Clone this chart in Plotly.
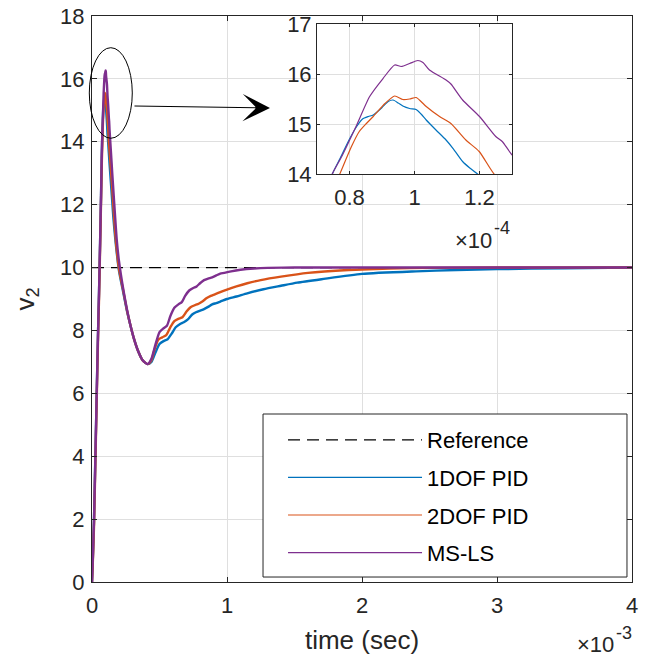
import plotly.graph_objects as go

# ---------------- data (time in seconds) ----------------
ref_t = [0.0, 0.004]
ref_v = [10.0, 10.0]

t_1dof = [0, 0.005e-3, 0.015e-3, 0.025e-3, 0.035e-3, 0.045e-3, 0.052e-3, 0.060e-3, 0.067e-3, 0.072e-3,
          0.0747e-3, 0.077e-3, 0.080e-3, 0.0822e-3, 0.084e-3, 0.0858e-3, 0.0873e-3, 0.090e-3, 0.0919e-3,
          0.0934e-3, 0.095e-3, 0.0964e-3, 0.0985e-3, 0.1005e-3, 0.102e-3, 0.1036e-3, 0.1066e-3, 0.1097e-3,
          0.112e-3, 0.1148e-3, 0.117e-3, 0.1194e-3, 0.130e-3, 0.150e-3, 0.158e-3, 0.175e-3, 0.200e-3,
          0.232e-3, 0.260e-3, 0.281e-3, 0.310e-3, 0.343e-3, 0.375e-3, 0.412e-3, 0.440e-3, 0.470e-3,
          0.500e-3, 0.530e-3, 0.560e-3, 0.590e-3, 0.620e-3, 0.650e-3, 0.680e-3, 0.710e-3, 0.740e-3,
          0.770e-3, 0.800e-3, 0.830e-3, 0.860e-3, 0.890e-3, 0.920e-3, 0.950e-3, 1.00e-3, 1.07e-3,
          1.15e-3, 1.27e-3, 1.40e-3, 1.52e-3, 1.70e-3, 2.00e-3, 2.40e-3, 2.70e-3, 3.00e-3, 3.50e-3, 4.00e-3]
v_1dof = [0, 0.6, 2.0, 4.0, 6.0, 8.0, 9.2, 10.8, 12.3, 13.5,
          14.0, 14.3, 14.7, 14.95, 15.1, 15.15, 15.18, 15.33, 15.45,
          15.48, 15.42, 15.36, 15.31, 15.29, 15.2, 15.08, 14.88, 14.68,
          14.5, 14.25, 14.12, 14.0, 13.3, 12.1, 11.6, 10.8, 9.9,
          9.2, 8.6, 8.22, 7.75, 7.33, 7.05, 6.93, 7.0, 7.3,
          7.57, 7.66, 7.72, 7.9, 8.1, 8.2, 8.26, 8.35, 8.5,
          8.58, 8.63, 8.68, 8.75, 8.83, 8.87, 8.92, 9.0, 9.08,
          9.18, 9.31, 9.42, 9.52, 9.63, 9.8, 9.88, 9.92, 9.95, 9.98, 10.0]

t_2dof = [0, 0.005e-3, 0.015e-3, 0.025e-3, 0.035e-3, 0.045e-3, 0.052e-3, 0.060e-3, 0.068e-3, 0.073e-3,
          0.077e-3, 0.0806e-3, 0.083e-3, 0.0852e-3, 0.0873e-3, 0.0909e-3, 0.0939e-3, 0.0964e-3, 0.0985e-3,
          0.1005e-3, 0.102e-3, 0.1036e-3, 0.1077e-3, 0.1112e-3, 0.1158e-3, 0.1199e-3, 0.1245e-3,
          0.130e-3, 0.150e-3, 0.165e-3, 0.180e-3, 0.200e-3, 0.232e-3, 0.260e-3, 0.281e-3, 0.310e-3,
          0.343e-3, 0.375e-3, 0.412e-3, 0.440e-3, 0.460e-3, 0.490e-3, 0.520e-3, 0.550e-3, 0.580e-3,
          0.610e-3, 0.640e-3, 0.670e-3, 0.700e-3, 0.730e-3, 0.760e-3, 0.790e-3, 0.820e-3, 0.850e-3,
          0.880e-3, 0.910e-3, 0.950e-3, 1.00e-3, 1.07e-3, 1.15e-3, 1.25e-3, 1.40e-3, 1.60e-3,
          1.90e-3, 2.20e-3, 2.50e-3, 3.00e-3, 4.00e-3]
v_2dof = [0, 0.5, 1.8, 3.8, 5.8, 7.8, 9.0, 10.6, 12.3, 13.4,
          14.0, 14.55, 14.85, 15.01, 15.15, 15.41, 15.56, 15.49, 15.5,
          15.53, 15.45, 15.35, 15.15, 15.01, 14.68, 14.45, 14.0,
          13.7, 12.5, 11.5, 10.7, 9.95, 9.25, 8.62, 8.23, 7.75,
          7.33, 7.05, 6.93, 7.05, 7.35, 7.7, 7.78, 7.85, 8.1,
          8.3, 8.37, 8.42, 8.6, 8.74, 8.8, 8.85, 8.93, 9.03,
          9.1, 9.15, 9.22, 9.3, 9.4, 9.5, 9.6, 9.71, 9.83,
          9.92, 9.97, 9.99, 10.0, 10.0]

t_msls = [0, 0.005e-3, 0.015e-3, 0.025e-3, 0.035e-3, 0.045e-3, 0.052e-3, 0.060e-3, 0.067e-3, 0.072e-3,
          0.0747e-3, 0.0776e-3, 0.082e-3, 0.0862e-3, 0.0903e-3, 0.0939e-3, 0.0959e-3, 0.0985e-3, 0.101e-3,
          0.1026e-3, 0.1046e-3, 0.1097e-3, 0.1112e-3, 0.1148e-3, 0.120e-3, 0.125e-3, 0.127e-3, 0.1298e-3,
          0.140e-3, 0.150e-3, 0.170e-3, 0.183e-3, 0.200e-3, 0.232e-3, 0.260e-3, 0.281e-3, 0.310e-3,
          0.343e-3, 0.375e-3, 0.412e-3, 0.440e-3, 0.470e-3, 0.500e-3, 0.530e-3, 0.555e-3, 0.580e-3,
          0.610e-3, 0.640e-3, 0.665e-3, 0.690e-3, 0.720e-3, 0.750e-3, 0.775e-3, 0.800e-3, 0.830e-3,
          0.860e-3, 0.890e-3, 0.920e-3, 0.950e-3, 0.980e-3, 1.03e-3, 1.10e-3, 1.20e-3, 1.30e-3,
          1.50e-3, 4.00e-3]
v_msls = [0, 0.6, 2.0, 4.0, 6.0, 8.0, 9.2, 10.8, 12.3, 13.5,
          14.0, 14.35, 14.95, 15.55, 15.91, 16.18, 16.15, 16.21, 16.27,
          16.23, 16.08, 15.88, 15.8, 15.48, 15.15, 14.75, 14.65, 14.4,
          13.7, 13.0, 11.7, 10.9, 10.2, 9.3, 8.65, 8.23, 7.75,
          7.33, 7.05, 6.93, 7.1, 7.55, 7.95, 8.07, 8.15, 8.45,
          8.72, 8.83, 8.9, 9.1, 9.27, 9.35, 9.4, 9.5, 9.6,
          9.65, 9.69, 9.75, 9.81, 9.83, 9.88, 9.93, 9.97, 9.99,
          10.0, 10.0]

series_names = ["1DOF PID", "2DOF PID", "MS-LS"]
series_t = [t_1dof, t_2dof, t_msls]
series_v = [v_1dof, v_2dof, v_msls]
series_colors = ["#0072BD", "#D95319", "#7E2F8E"]

main_xticks = [0, 1e-3, 2e-3, 3e-3, 4e-3]
main_xticktext = ["0", "1", "2", "3", "4"]
main_yticks = [0, 2, 4, 6, 8, 10, 12, 14, 16, 18]
inset_xticks = [0.8e-4, 1.0e-4, 1.2e-4]
inset_xticktext = ["0.8", "1", "1.2"]
inset_yticks = [14, 15, 16, 17]

FONT = "Liberation Sans, Arial, Helvetica, sans-serif"
TXT = "#262626"
GRID = "#dfdfdf"

fig = go.Figure()

fig.add_trace(go.Scatter(x=ref_t, y=ref_v, mode="lines", name="Reference",
                         legendgroup="ref",
                         line=dict(color="black", width=1.2, dash="12px,7px"),
                         xaxis="x", yaxis="y"))

for name, tt, vv, col in zip(series_names, series_t, series_v, series_colors):
    fig.add_trace(go.Scatter(x=tt, y=vv, mode="lines", name=name, legendgroup=name,
                             showlegend=False, line=dict(color=col, width=2.4, shape="spline", smoothing=0.6),
                             xaxis="x", yaxis="y"))

for name, tt, vv, col in zip(series_names, series_t, series_v, series_colors):
    fig.add_trace(go.Scatter(x=tt, y=vv, mode="lines", name=name, legendgroup=name,
                             showlegend=True, line=dict(color=col, width=1.2, shape="spline", smoothing=0.6),
                             xaxis="x2", yaxis="y2"))

axis_common = dict(showline=True, linecolor=TXT, linewidth=1, mirror="ticks",
                   ticks="inside", tickcolor=TXT, tickwidth=1,
                   showgrid=True, gridcolor=GRID, gridwidth=1, zeroline=False,
                   tickfont=dict(family=FONT, size=22, color=TXT))

fig.update_layout(
    width=648, height=660,
    margin=dict(l=92, r=16, t=16, b=78, autoexpand=False),
    paper_bgcolor="white", plot_bgcolor="white",
    font=dict(family=FONT, size=22, color=TXT),
    xaxis=dict(range=[0, 0.004], tickvals=main_xticks, ticktext=main_xticktext, ticklen=5,
               domain=[0, 1], anchor="y", ticklabelstandoff=4,
               title=dict(text="time (sec)", font=dict(family=FONT, size=26, color=TXT), standoff=13),
               **axis_common),
    yaxis=dict(range=[0, 18], tickvals=main_yticks, ticklen=5, domain=[0, 1], anchor="x",
               ticklabelstandoff=2,
               title=dict(text="v<sub>2</sub>", font=dict(family=FONT, size=26, color=TXT), standoff=18),
               **axis_common),
    xaxis2=dict(range=[0.7e-4, 1.3e-4], tickvals=inset_xticks, ticktext=inset_xticktext, ticklen=3,
                domain=[0.4167, 0.7778], anchor="y2", ticklabelstandoff=4, **axis_common),
    yaxis2=dict(range=[14, 17], tickvals=inset_yticks, ticklen=3,
                domain=[0.7208, 0.9859], anchor="x2", **axis_common),
    legend=dict(x=0.3167, y=0.288, xanchor="left", yanchor="top",
                borderwidth=0, bgcolor="rgba(0,0,0,0)",
                font=dict(family=FONT, size=22, color="black"),
                itemwidth=134, indentation=20, traceorder="grouped", tracegroupgap=6),
    showlegend=True,
)

# legend frame
fig.add_shape(type="rect", xref="paper", yref="paper", layer="above",
              x0=0.3167, x1=0.9907, y0=0.0088, y1=0.2968,
              line=dict(color=TXT, width=1), fillcolor="white")

# ellipse highlighting the peak and arrow to the inset
fig.add_shape(type="circle", xref="paper", yref="paper",
              x0=-0.005, x1=0.0746, y0=0.784, y1=0.944,
              line=dict(color="black", width=1), fillcolor="rgba(0,0,0,0)")
fig.add_annotation(xref="paper", yref="paper", x=0.3296, y=0.8375, text="",
                   showarrow=True, ax=-137, ay=-2, arrowhead=3, arrowsize=3.8,
                   arrowwidth=1.2, arrowcolor="black")

# common exponent labels (MATLAB style: base and raised exponent)
exp_font = dict(family=FONT, size=22, color=TXT)
sup_font = dict(family=FONT, size=18, color=TXT)
fig.add_annotation(xref="paper", yref="paper", x=0.9685, y=-0.1113, xanchor="right", yanchor="middle",
                   text="×10", showarrow=False, font=exp_font, borderpad=0)
fig.add_annotation(xref="paper", yref="paper", x=0.9685, y=-0.0901, xanchor="left", yanchor="middle",
                   text="-3", showarrow=False, font=sup_font, borderpad=0)
fig.add_annotation(xref="paper", yref="paper", x=0.7426, y=0.6042, xanchor="right", yanchor="middle",
                   text="×10", showarrow=False, font=exp_font, borderpad=0)
fig.add_annotation(xref="paper", yref="paper", x=0.7426, y=0.6255, xanchor="left", yanchor="middle",
                   text="-4", showarrow=False, font=sup_font, borderpad=0)

fig.write_html("out.html")
